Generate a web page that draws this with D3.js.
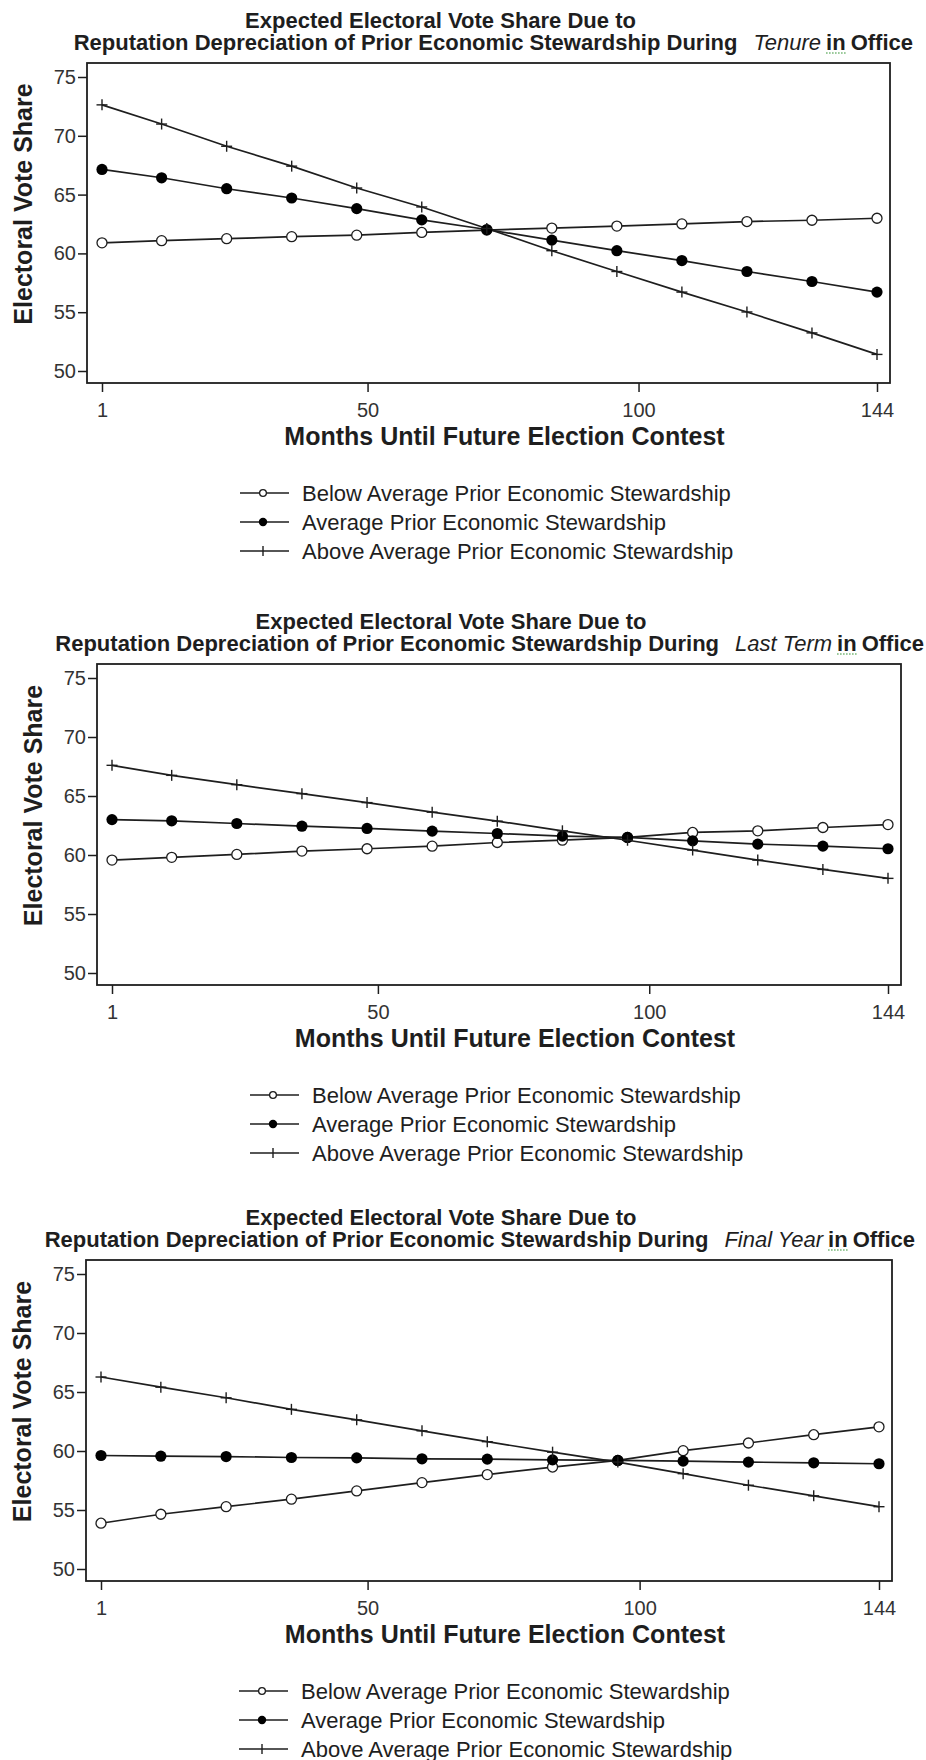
<!DOCTYPE html>
<html>
<head>
<meta charset="utf-8">
<script src="https://cdn.jsdelivr.net/npm/d3@7"></script>
<style>
  body { margin: 0; background: #fff; }
  svg { display: block; font-family: "Liberation Sans", Arial, sans-serif; }
</style>
</head>
<body>
<script>
const w = 926;
const h = 1760;

// chart values
const months = [1, 12, 24, 36, 48, 60, 72, 84, 96, 108, 120, 132, 144];
const xTicks = [1, 50, 100, 144];
const yTicks = [50, 55, 60, 65, 70, 75];
const seriesNames = [
  "Below Average Prior Economic Stewardship",
  "Average Prior Economic Stewardship",
  "Above Average Prior Economic Stewardship"
];
const terms = ["Tenure", "Last Term", "Final Year"];

const tenureBelow = [60.9, 61.08, 61.25, 61.42, 61.55, 61.78, 61.98, 62.15, 62.32, 62.51, 62.71, 62.82, 62.99];
const tenureAverage = [67.14, 66.43, 65.5, 64.71, 63.81, 62.85, 62.03, 61.13, 60.23, 59.39, 58.46, 57.61, 56.71];
const tenureAbove = [72.63, 71.0, 69.11, 67.42, 65.56, 63.95, 62.12, 60.23, 58.46, 56.71, 55.02, 53.24, 51.41];

const lastTermBelow = [59.57, 59.8, 60.05, 60.33, 60.53, 60.75, 61.06, 61.26, 61.49, 61.91, 62.05, 62.33, 62.58];
const lastTermAverage = [63.0, 62.9, 62.67, 62.44, 62.25, 62.02, 61.82, 61.6, 61.49, 61.2, 60.92, 60.75, 60.53];
const lastTermAbove = [67.6, 66.75, 65.96, 65.2, 64.44, 63.63, 62.87, 62.05, 61.25, 60.42, 59.57, 58.78, 58.02];

const finalYearBelow = [53.88, 54.64, 55.28, 55.92, 56.62, 57.32, 58.0, 58.64, 59.2, 60.03, 60.68, 61.38, 62.05];
const finalYearAverage = [59.62, 59.56, 59.53, 59.45, 59.42, 59.34, 59.31, 59.25, 59.2, 59.14, 59.06, 59.0, 58.92];
const finalYearAbove = [66.27, 65.41, 64.51, 63.53, 62.64, 61.71, 60.79, 59.9, 59.06, 58.08, 57.1, 56.2, 55.28];

const seriesByTerm = [
  [tenureBelow, tenureAverage, tenureAbove],
  [lastTermBelow, lastTermAverage, lastTermAbove],
  [finalYearBelow, finalYearAverage, finalYearAbove]
];

// frame of each panel (plot box edges)
const frames = [
  { l: 87, r: 890, t: 63, b: 383 },
  { l: 97, r: 901, t: 664, b: 985 },
  { l: 86, r: 892, t: 1260, b: 1581 }
];

const ink = "#1e1e1e";

const svg = d3
  .select("body")
  .append("svg")
  .attr("width", w)
  .attr("height", h);

// draws the marker for series i at (0,0) of the group
function marker(g, i, small) {
  if (i === 0) {
    g.append("circle")
      .attr("r", small ? 3.4 : 5)
      .attr("fill", "#fff")
      .attr("stroke", ink)
      .attr("stroke-width", 1.3);
  } else if (i === 1) {
    g.append("circle")
      .attr("r", small ? 4.2 : 5.6)
      .attr("fill", "#000");
  } else {
    const s = small ? 5 : 5.5;
    if (!small) {
      g.append("line").attr("x1", -s).attr("x2", s)
        .attr("stroke", ink).attr("stroke-width", 1.4);
    }
    g.append("line").attr("y1", -s).attr("y2", s)
      .attr("stroke", ink).attr("stroke-width", 1.4);
  }
}

terms.forEach(function (term, p) {
  const f = frames[p];
  const g = svg.append("g");

  const x = d3.scaleLinear().domain([1, 144]).range([f.l + 15, f.r - 13]);
  const y = d3.scaleLinear().domain([50, 75]).range([f.b - 12, f.t + 14]);

  // title
  const cx = (f.l + f.r) / 2;
  g.append("text")
    .attr("x", cx - 48)
    .attr("y", f.t - 35)
    .attr("text-anchor", "middle")
    .attr("font-size", 22)
    .attr("font-weight", "bold")
    .attr("fill", ink)
    .text("Expected Electoral Vote Share Due to");

  const t2 = g.append("text")
    .attr("x", f.r + 23)
    .attr("y", f.t - 13)
    .attr("text-anchor", "end")
    .attr("font-size", 22)
    .attr("font-weight", "bold")
    .attr("fill", ink);
  t2.append("tspan").text("Reputation Depreciation of Prior Economic Stewardship During");
  t2.append("tspan")
    .attr("dx", 16)
    .attr("font-style", "italic")
    .attr("font-weight", "normal")
    .text(term);
  t2.append("tspan").attr("class", "inword").attr("dx", 5).text("in");
  t2.append("tspan").attr("dx", 5).text("Office");

  // little green spell-check squiggle under "in"
  const inNode = t2.select(".inword").node();
  const ext = inNode.getExtentOfChar(0);
  const ext2 = inNode.getExtentOfChar(1);
  g.append("line")
    .attr("x1", ext.x)
    .attr("x2", ext2.x + ext2.width)
    .attr("y1", f.t - 10)
    .attr("y2", f.t - 10)
    .attr("stroke", "#6fb36f")
    .attr("stroke-width", 1.5)
    .attr("stroke-dasharray", "1.5,1.5");

  // plot box
  g.append("rect")
    .attr("x", f.l)
    .attr("y", f.t)
    .attr("width", f.r - f.l)
    .attr("height", f.b - f.t)
    .attr("fill", "none")
    .attr("stroke", ink)
    .attr("stroke-width", 1.8);

  // axes
  const xAxis = g.append("g")
    .attr("transform", "translate(0," + f.b + ")")
    .call(d3.axisBottom(x).tickValues(xTicks).tickSize(9).tickPadding(11).tickFormat(d3.format("d")));
  const yAxis = g.append("g")
    .attr("transform", "translate(" + f.l + ",0)")
    .call(d3.axisLeft(y).tickValues(yTicks).tickSize(9).tickPadding(2).tickFormat(d3.format("d")));
  [xAxis, yAxis].forEach(function (a) {
    a.select(".domain").remove();
    a.selectAll("line").attr("stroke", ink).attr("stroke-width", 1.5);
    a.selectAll("text")
      .attr("font-family", "'Liberation Sans', Arial, sans-serif")
      .attr("font-size", 20)
      .attr("fill", "#333");
  });

  // axis titles
  g.append("text")
    .attr("x", cx + 16)
    .attr("y", f.b + 62)
    .attr("text-anchor", "middle")
    .attr("font-size", 25)
    .attr("font-weight", "bold")
    .attr("fill", ink)
    .text("Months Until Future Election Contest");

  g.append("text")
    .attr("transform", "translate(" + (f.l - 55) + "," + ((f.t + f.b) / 2 - 19) + ") rotate(-90)")
    .attr("text-anchor", "middle")
    .attr("font-size", 25)
    .attr("font-weight", "bold")
    .attr("fill", ink)
    .text("Electoral Vote Share");

  // series lines and markers
  const line = d3.line()
    .x(function (d, i) { return x(months[i]); })
    .y(function (d) { return y(d); });

  seriesByTerm[p].forEach(function (vals) {
    g.append("path")
      .datum(vals)
      .attr("d", line)
      .attr("fill", "none")
      .attr("stroke", ink)
      .attr("stroke-width", 1.7);
  });
  seriesByTerm[p].forEach(function (vals, i) {
    g.selectAll(null)
      .data(vals)
      .enter()
      .append("g")
      .attr("transform", function (d, k) { return "translate(" + x(months[k]) + "," + y(d) + ")"; })
      .each(function () { marker(d3.select(this), i, false); });
  });

  // legend
  seriesNames.forEach(function (name, i) {
    const ly = f.b + 110 + i * 29;
    const lg = g.append("g");
    lg.append("line")
      .attr("x1", f.l + 153)
      .attr("x2", f.l + 202)
      .attr("y1", ly)
      .attr("y2", ly)
      .attr("stroke", ink)
      .attr("stroke-width", 1.6);
    marker(lg.append("g").attr("transform", "translate(" + (f.l + 176) + "," + ly + ")"), i, true);
    lg.append("text")
      .attr("x", f.l + 215)
      .attr("y", ly + 7.5)
      .attr("font-size", 22)
      .attr("fill", ink)
      .text(name);
  });
});
</script>
</body>
</html>
